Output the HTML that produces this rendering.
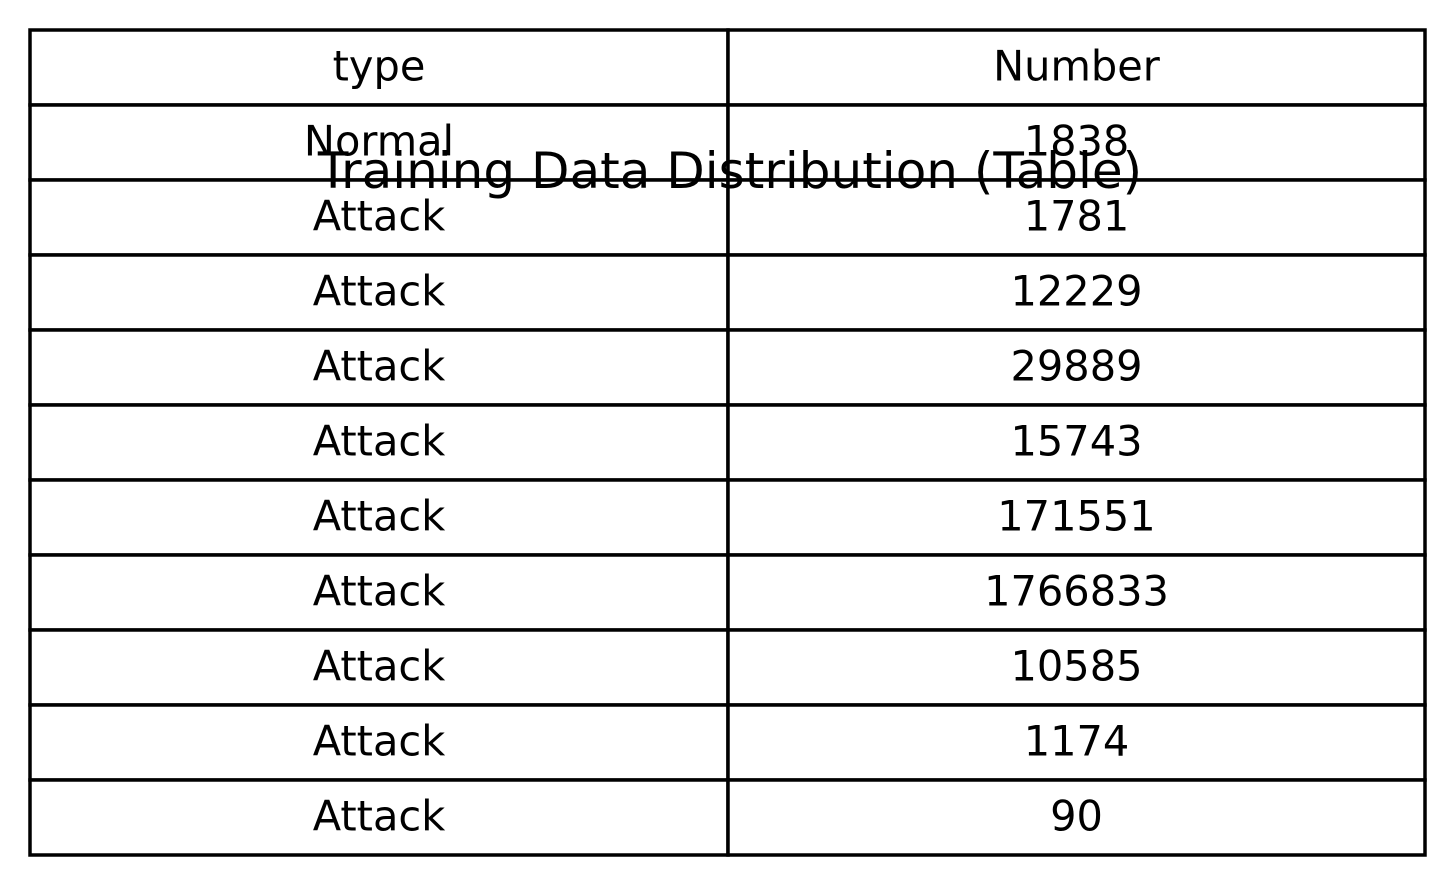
<!DOCTYPE html>
<html><head><meta charset="utf-8"><style>
html,body{margin:0;padding:0;background:#fff;width:1455px;height:885px;overflow:hidden}
svg text{font-family:"DejaVu Sans","Liberation Sans",sans-serif;fill:#000}
</style></head><body>
<svg id="chart" width="1455" height="885" viewBox="0 0 1455 885" xmlns="http://www.w3.org/2000/svg">
<rect width="1455" height="885" fill="#fff"/>
</svg>
<script>
const headers = ["type", "Number"];
const types = ["Normal","Attack","Attack","Attack","Attack","Attack","Attack","Attack","Attack","Attack"];
const counts = [1838,1781,12229,29889,15743,171551,1766833,10585,1174,90];

const chartSvg = document.getElementById('chart');
const SVGNS = 'http://www.w3.org/2000/svg';
const tblLeft = 30, tblRight = 1425, tblMid = 728, tblTop = 30, rowH = 75;
const nRows = types.length + 1;
const colCenters = [(tblLeft + tblMid) / 2, (tblMid + tblRight) / 2];

function mk(tag, attrs) {
  const e = document.createElementNS(SVGNS, tag);
  for (const k in attrs) e.setAttribute(k, attrs[k]);
  chartSvg.appendChild(e);
  return e;
}
function cellText(txt, col, row, name) {
  const t = mk('text', {x: colCenters[col], y: tblTop + row * rowH + rowH / 2 + 13, 'text-anchor': 'middle', 'font-size': 41.5});
  t.textContent = txt;
  
  
}
for (let r = 0; r < nRows; r++) {
  for (let c = 0; c < 2; c++) {
    const x0 = c === 0 ? tblLeft : tblMid, x1 = c === 0 ? tblMid : tblRight;
    const rc = mk('rect', {x: x0, y: tblTop + r * rowH, width: x1 - x0, height: rowH, fill: '#fff', stroke: '#000', 'stroke-width': 3.5});
    
    
  }
}
headers.forEach((h, i) => cellText(h, i, 0, 'header-cell-text'));
types.forEach((t, i) => cellText(t, 0, i + 1, 'type-cell-text'));
counts.forEach((n, i) => cellText(String(n), 1, i + 1, 'number-cell-text'));
const titleEl = mk('text', {x: 730, y: 188, 'text-anchor': 'middle', 'font-size': 50});
titleEl.textContent = 'Training Data Distribution (Table)';


</script>
</body></html>
